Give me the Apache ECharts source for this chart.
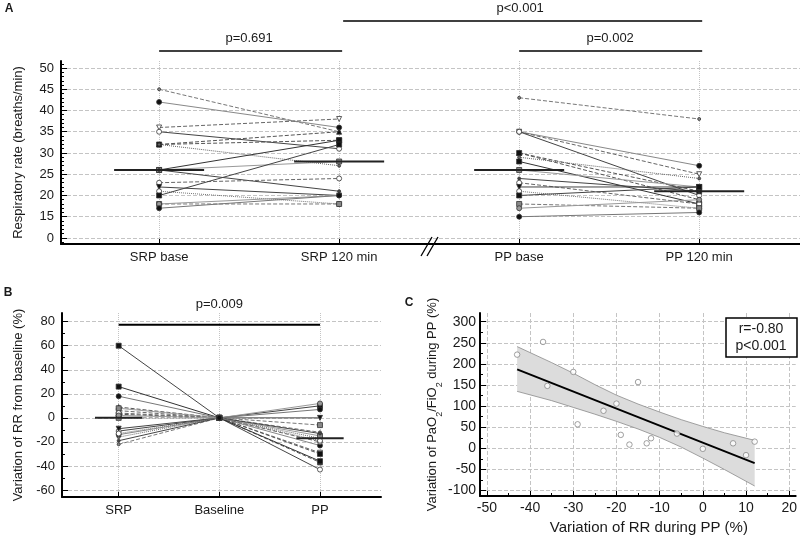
<!DOCTYPE html>
<html><head><meta charset="utf-8">
<script src="https://cdn.jsdelivr.net/npm/echarts@6/dist/echarts.min.js"></script>
<style>html,body{margin:0;padding:0;background:#fff}#c{width:800px;height:536px}</style>
</head><body><div id="c"></div>
<script>
// ---------- DATA ----------
const timeLabels = ['SRP base', 'SRP 120 min', 'PP base', 'PP 120 min'];
const rrTicks = [10, 15, 20, 25, 30, 35, 40, 45, 50]; // 10 is drawn as "0" (broken axis)
const srpBase = [45, 42, 36, 35, 32, 32, 32, 26, 26, 26, 23, 22, 21, 20, 18, 18, 17];
const srp120  = [35, 36, 38, 31, 35, 33, 27, 33, 28, 21, 24, 20, 18, 32, 18, 20, 20];
const ppBase  = [43, 35, 35, 35, 30, 30, 29, 28, 26, 24, 23, 22, 21, 20, 18, 17, 15];
const pp120   = [38, 27, 25, 20, 19, 21, 24, 18, 22, 21, 18, 22, 17, 22, 17, 19, 16];
const rrMedians = [26, 28, 26, 21];

const varLabels = ['SRP', 'Baseline', 'PP'];
const varTicks = [-60, -40, -20, 0, 20, 40, 60, 80];
const srpVar = [-22, -14, 6, -11, 9, 3, -16, 26, 8, -19, 4, -9, -13, 60, 0, 2, 18];
const ppVar  = [-12, -23, -29, -43, -37, -30, -17, -36, -15, -13, -20, 0, -19, 10, -6, 12, 7];
const varMedians = [0, -17];

const cxTicks = [-50, -40, -30, -20, -10, 0, 10, 20];
const cyTicks = [-100, -50, 0, 50, 100, 150, 200, 250, 300];
const rrChangePP   = [-43, -37, -36, -30, -29, -23, -20, -19, -17, -15, -13, -12, -6, 0, 7, 10, 12];
const pfChangePP   = [222, 252, 148, 181, 57, 89, 106, 32, 9, 157, 12, 24, 35, -1, 12, -16, 16];
const regX = [-43, 12];
const regY = [187, -35];
const bandX     = [-43, -35, -30, -25, -20, -15, -10, -5, 0, 5, 12];
const bandUpper = [241, 203, 178, 151, 126, 105, 86, 68, 52, 37, 19];
const bandLower = [135, 113, 97, 81, 64, 46, 26, 3, -23, -50, -89];

// ---------- STYLES (per patient) ----------
const sym     = ['circle','circle','triangle','circle','triangle','rect','circle','rect','rect','circle','circle','triangle','circle','rect','rect','circle','circle'];
const symRot  = [0,0,180,0,0,0,0,0,0,0,0,180,0,0,0,0,0];
const symFill = ['#888','#111','#fff','#fff','#111','#111','#666','#111','#888','#444','#fff','#111','#fff','#111','#888','#999','#111'];
const symSize = [3,5,5,5,5,5,3,5,5,3,5,5,5,5,5,5,5];
const lnType  = ['dashed','solid','dashed','solid','dashed','dashed','dotted','solid','solid','solid','dashed','solid','dotted','solid','dashed','solid','solid'];
const lnColor = ['#777','#888','#666','#444','#555','#555','#666','#333','#999','#444','#666','#444','#777','#444','#777','#999','#777'];

const FONT = '"Liberation Sans", Arial, sans-serif';
const TXT = '#1a1a1a';
const range = (a, b, s) => { const r = []; for (let v = a; v <= b + 1e-9; v += s) r.push(Math.round(v * 100) / 100); return r; };

const axisLineStyle = { show: true, onZero: false, lineStyle: { color: '#000', width: 2 } };
const lbl = (vals, fmt, margin, fs) => ({ customValues: vals, formatter: fmt, color: TXT, fontSize: fs || 13, fontFamily: FONT, margin: margin });
const split = (type) => ({ show: true, lineStyle: { color: '#c4c4c4', width: 1, type: type } });
function minorAxis(grid, min, max, vals, extra) {
  return Object.assign({
    type: 'value', gridIndex: grid, min: min, max: max,
    axisLine: { show: false, onZero: false }, axisLabel: { show: false }, splitLine: { show: false },
    axisTick: { show: true, inside: true, interval: 0, length: 3, customValues: vals, lineStyle: { color: '#000', width: 1 } }
  }, extra || {});
}

const rrMinor = range(9, 51, 1).filter(v => v % 5 !== 0);
const varMinor = range(-60, 80, 10).filter(v => v % 20 !== 0);
const cxMinor = range(-45, 15, 10);
const cyMinor = range(-75, 275, 50);

const xAxis = [
  { type: 'value', gridIndex: 0, min: 0.455, max: 4.56,
    axisLine: axisLineStyle,
    axisTick: { show: true, inside: true, length: 5, customValues: [1, 2, 3, 4], lineStyle: { color: '#000' } },
    axisLabel: lbl([1, 2, 3, 4], v => timeLabels[Math.round(v) - 1], 7),
    splitLine: split('dotted') },
  { type: 'value', gridIndex: 1, min: 0.437, max: 3.606,
    axisLine: axisLineStyle,
    axisTick: { show: true, inside: true, length: 5, customValues: [1, 2, 3], lineStyle: { color: '#000' } },
    axisLabel: lbl([1, 2, 3], v => varLabels[Math.round(v) - 1], 7),
    splitLine: split('dotted') },
  { type: 'value', gridIndex: 2, min: -51.6, max: 21.5,
    axisLine: axisLineStyle,
    axisTick: { show: true, inside: true, interval: 0, length: 5, customValues: cxTicks, lineStyle: { color: '#000' } },
    axisLabel: lbl(cxTicks, v => String(v), 5, 14),
    splitLine: split('dashed'),
    name: 'Variation of RR during PP (%)', nameLocation: 'middle', nameGap: 24,
    nameTextStyle: { color: TXT, fontSize: 15, fontFamily: FONT, padding: [0, 0, 0, 22] } },
  minorAxis(2, -51.6, 21.5, cxMinor, { position: 'bottom' })
];

const yAxis = [
  { type: 'value', gridIndex: 0, min: 8.58, max: 51.65,
    axisLine: axisLineStyle,
    axisTick: { show: true, inside: true, length: 6, customValues: rrTicks, lineStyle: { color: '#000' } },
    axisLabel: lbl(rrTicks, v => (v === 10 ? '0' : String(v)), 7),
    splitLine: split('dashed'),
    name: 'Respiratory rate (breaths/min)', nameLocation: 'middle', nameGap: 36,
    nameTextStyle: { color: TXT, fontSize: 13, fontFamily: FONT } },
  { type: 'value', gridIndex: 1, min: -65.8, max: 87.2,
    axisLine: axisLineStyle,
    axisTick: { show: true, inside: true, length: 6, customValues: varTicks, lineStyle: { color: '#000' } },
    axisLabel: lbl(varTicks, v => String(v), 7),
    splitLine: split('dashed'),
    name: 'Variation of RR from baseline (%)', nameLocation: 'middle', nameGap: 37,
    nameTextStyle: { color: TXT, fontSize: 13, fontFamily: FONT } },
  { type: 'value', gridIndex: 2, min: -112.7, max: 320.5,
    axisLine: axisLineStyle,
    axisTick: { show: true, inside: true, interval: 0, length: 6, customValues: cyTicks, lineStyle: { color: '#000' } },
    axisLabel: lbl(cyTicks, v => String(v), 4, 14),
    splitLine: split('dashed'),
    name: '{n|Variation of PaO}{s|2}{n|/FiO}{s|2}{n| during PP (%)}', nameLocation: 'middle', nameGap: 38,
    nameTextStyle: { color: TXT, fontSize: 13, fontFamily: FONT,
      rich: { n: { fontSize: 13, fontFamily: FONT, color: TXT, lineHeight: 17, verticalAlign: 'middle' },
              s: { fontSize: 9, fontFamily: FONT, color: TXT, lineHeight: 17, verticalAlign: 'bottom', padding: [0, 0, -3, 0] } } } },
  minorAxis(0, 8.58, 51.65, rrMinor, { position: 'left' }),
  minorAxis(1, -65.8, 87.2, varMinor, { position: 'left' }),
  minorAxis(2, -112.7, 320.5, cyMinor, { position: 'left' })
];

const series = [];
function patientSeries(xi, yi, data, i) {
  return {
    type: 'line', xAxisIndex: xi, yAxisIndex: yi, data: data,
    symbol: sym[i], symbolRotate: symRot[i], symbolSize: symSize[i],
    itemStyle: { color: symFill[i], borderColor: '#333', borderWidth: 0.8 },
    lineStyle: { color: lnColor[i], width: 1, type: lnType[i] },
    animation: false, silent: true, z: 3
  };
}
for (let i = 0; i < srpBase.length; i++) {
  series.push(patientSeries(0, 0, [[1, srpBase[i]], [2, srp120[i]]], i));
  series.push(patientSeries(0, 0, [[3, ppBase[i]], [4, pp120[i]]], i));
}
rrMedians.forEach((m, k) => {
  series.push({ type: 'line', xAxisIndex: 0, yAxisIndex: 0, data: [[k + 1 - 0.25, m], [k + 1 + 0.25, m]],
    symbol: 'none', lineStyle: { color: '#222', width: 2 }, animation: false, z: 5 });
});
for (let i = 0; i < srpVar.length; i++) {
  series.push(patientSeries(1, 1, [[1, srpVar[i]], [2, 0], [3, ppVar[i]]], i));
}
varMedians.forEach((m, k) => {
  const c = k === 0 ? 1 : 3;
  series.push({ type: 'line', xAxisIndex: 1, yAxisIndex: 1, data: [[c - 0.235, m], [c + 0.235, m]],
    symbol: 'none', lineStyle: { color: '#222', width: 2 }, animation: false, z: 5 });
});
// Panel C: confidence band polygon
series.push({ type: 'custom', xAxisIndex: 2, yAxisIndex: 2, data: [[bandX[0], bandUpper[0]]], animation: false, silent: true, z: 1,
  renderItem: function (params, api) {
    const pts = [];
    bandX.forEach((x, i) => pts.push(api.coord([x, bandUpper[i]])));
    for (let i = bandX.length - 1; i >= 0; i--) pts.push(api.coord([bandX[i], bandLower[i]]));
    return { type: 'polygon', shape: { points: pts }, style: { fill: '#dcdcdc', stroke: 'none' } };
  } });
series.push({ type: 'line', xAxisIndex: 2, yAxisIndex: 2, data: bandX.map((x, i) => [x, bandUpper[i]]), symbol: 'none',
  lineStyle: { color: '#8a8a8a', width: 0.8 }, animation: false, z: 2 });
series.push({ type: 'line', xAxisIndex: 2, yAxisIndex: 2, data: bandX.map((x, i) => [x, bandLower[i]]), symbol: 'none',
  lineStyle: { color: '#8a8a8a', width: 0.8 }, animation: false, z: 2 });
series.push({ type: 'line', xAxisIndex: 2, yAxisIndex: 2, data: regX.map((x, i) => [x, regY[i]]),
  symbol: 'none', lineStyle: { color: '#000', width: 2 }, animation: false, z: 4 });
series.push({ type: 'scatter', xAxisIndex: 2, yAxisIndex: 2, data: rrChangePP.map((x, i) => [x, pfChangePP[i]]),
  symbol: 'circle', symbolSize: 5.5, itemStyle: { color: '#fff', borderColor: '#888', borderWidth: 1 }, animation: false, z: 5 });

const chart = echarts.init(document.getElementById('c'), null, { renderer: 'canvas' });
chart.setOption({
  backgroundColor: '#fff',
  animation: false,
  grid: [
    { left: 61, top: 61, width: 739, height: 183 },
    { left: 62, top: 313, width: 319, height: 184 },
    { left: 480, top: 313, width: 320, height: 184 }
  ],
  xAxis: xAxis, yAxis: yAxis, series: series
});

// ---------- annotations ----------
const px = (xi, yi, x, y) => chart.convertToPixel({ xAxisIndex: xi, yAxisIndex: yi }, [x, y]);
const g = [];
const hline = (x1, x2, y, w) => g.push({ type: 'line', shape: { x1: x1, y1: y, x2: x2, y2: y }, style: { stroke: '#000', lineWidth: w || 1.5 }, z: 100 });
const text = (x, y, s, opt) => g.push({ type: 'text', x: x, y: y, style: Object.assign({ text: s, fill: TXT, font: '13px ' + FONT, textAlign: 'center', textVerticalAlign: 'middle' }, opt || {}), z: 100 });
const a1 = px(0, 0, 1, 50)[0], a2 = px(0, 0, 2, 50)[0], a3 = px(0, 0, 3, 50)[0], a4 = px(0, 0, 4, 50)[0];
hline(a1, a2 + 3, 51); text((a1 + a2) / 2, 38, 'p=0.691');
hline(a2 + 4, a4 + 3, 21); text((a2 + a4) / 2 + 1, 8, 'p<0.001');
hline(a3, a4 + 3, 51); text((a3 + a4) / 2 + 1, 38, 'p=0.002');
const b1 = px(1, 1, 1, 77.5), b3 = px(1, 1, 3, 77.5);
hline(b1[0], b3[0], b1[1], 2); text((b1[0] + b3[0]) / 2, b1[1] - 20, 'p=0.009');
// axis break
const yb = px(0, 0, 1, 8.58)[1];
g.push({ type: 'line', shape: { x1: 421, y1: yb + 12, x2: 432, y2: yb - 7 }, style: { stroke: '#000', lineWidth: 1.3 }, z: 100 });
g.push({ type: 'line', shape: { x1: 427, y1: yb + 12, x2: 438, y2: yb - 7 }, style: { stroke: '#000', lineWidth: 1.3 }, z: 100 });
// panel letters
text(9, 9, 'A', { font: 'bold 12px ' + FONT });
text(8, 293, 'B', { font: 'bold 12px ' + FONT });
text(409, 303, 'C', { font: 'bold 12px ' + FONT });
// stats box
g.push({ type: 'rect', shape: { x: 726, y: 318, width: 71, height: 39 }, style: { fill: '#fff', stroke: '#000', lineWidth: 1.5 }, z: 100 });
text(761, 329, 'r=-0.80', { font: '14px ' + FONT });
text(761, 346, 'p<0.001', { font: '14px ' + FONT });
chart.setOption({ graphic: g });
</script>
</body></html>
